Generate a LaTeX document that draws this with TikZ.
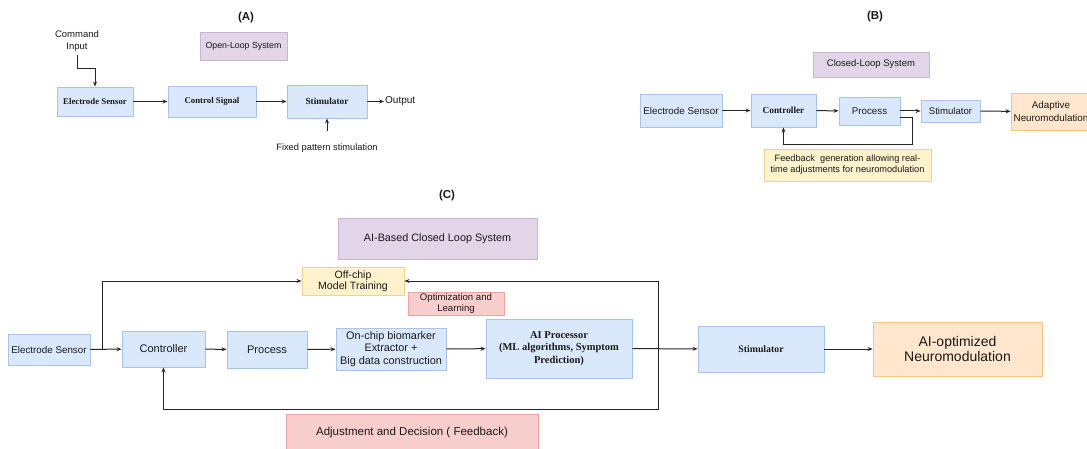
\documentclass[tikz,border=0pt]{standalone}
\usepackage{fontspec}
\setmainfont{Liberation Sans}
\setsansfont{Liberation Sans}
\newfontfamily\serifrm{Liberation Serif}
\usepackage{xcolor}
\usepackage{tikz}
\usetikzlibrary{positioning, calc, arrows.meta}

\definecolor{fillblue}{HTML}{DAE8FC}
\definecolor{lineblue}{HTML}{A9C4EB}
\definecolor{fillpurple}{HTML}{E1D5E7}
\definecolor{linepurple}{HTML}{C9B4D6}
\definecolor{fillyellow}{HTML}{FFF2CC}
\definecolor{lineyellow}{HTML}{EDD590}
\definecolor{fillpink}{HTML}{F8CECC}
\definecolor{linepink}{HTML}{EBA6A4}
\definecolor{fillorange}{HTML}{FFE6CC}
\definecolor{lineorange}{HTML}{F5C77E}

\newcommand{\setsz}[2]{\fontsize{#1}{#2}\selectfont}

\begin{document}
\begin{tikzpicture}[
  x=1pt, y=-1pt,
  >={Stealth[length=5pt, width=4pt]},
  every node/.style={align=center, text=black!90},
  box/.style={rectangle, draw, line width=0.9pt, inner sep=1pt},
  bluebox/.style={box, fill=fillblue, draw=lineblue},
  purplebox/.style={box, fill=fillpurple, draw=linepurple},
  yellowbox/.style={box, fill=fillyellow, draw=lineyellow},
  pinkbox/.style={box, fill=fillpink, draw=linepink},
  orangebox/.style={box, fill=fillorange, draw=lineorange},
  paneltitle/.style={font=\bfseries\setsz{11.5}{13}},
  flow/.style={->, line width=1pt, black!85}
]

\path[use as bounding box, clip] (0,0) rectangle (1087,449);

% --- (A) Open-loop system ---
\node[paneltitle] (titleA) at (246,18) {(A)};
\node[purplebox, minimum width=87pt, minimum height=28pt, font=\setsz{8.8}{10}]
  (openA) at (243.5,46) {Open-Loop System};
\node[font=\setsz{9.5}{12}] (cmdA) at (77,41) {Command\\Input};
\node[bluebox, minimum width=76pt, minimum height=29pt, font=\serifrm\bfseries\setsz{8.8}{10}]
  (sensA) at (95,101.5) {Electrode Sensor};
\node[bluebox, minimum width=88pt, minimum height=31pt, font=\serifrm\bfseries\setsz{8.8}{10}]
  (ctrlA) at (212,101.5) {Control Signal};
\node[bluebox, minimum width=80pt, minimum height=33pt, font=\serifrm\bfseries\setsz{9.3}{10}]
  (stimA) at (327,101.5) {Stimulator};
\node[anchor=west, inner sep=1pt, font=\setsz{10}{11}] (outA) at (384,101.5) {Output};
\node[font=\setsz{9.3}{10}] (fixA) at (327,148) {Fixed pattern stimulation};

\draw[flow] (cmdA.south) |- ($(sensA.north)+(0,-18)$) -- (sensA.north);
\draw[flow] (sensA) -- (ctrlA);
\draw[flow] (ctrlA) -- (stimA);
\draw[flow] (stimA) -- (outA);
\draw[flow, shorten <=9pt] (fixA.north) -- (stimA.south);

% --- (B) Closed-loop system ---
\node[paneltitle] (titleB) at (875,17) {(B)};
\node[purplebox, minimum width=116pt, minimum height=25pt, font=\setsz{9.5}{11}]
  (closedB) at (871,64.5) {Closed-Loop System};
\node[bluebox, minimum width=82pt, minimum height=33pt, font=\setsz{9.8}{11}]
  (sensB) at (681,110.5) {Electrode Sensor};
\node[bluebox, minimum width=65pt, minimum height=33pt, font=\serifrm\bfseries\setsz{9.3}{10}]
  (ctrlB) at (783.5,110.5) {Controller};
\node[bluebox, minimum width=61pt, minimum height=28pt, font=\setsz{9.8}{11}]
  (procB) at (869.5,111) {Process};
\node[bluebox, minimum width=59pt, minimum height=22pt, font=\setsz{9.6}{11}]
  (stimB) at (950.5,111) {Stimulator};
\node[orangebox, minimum width=80pt, minimum height=37pt, font=\setsz{9.8}{12.5}]
  (adaptB) at (1051,111.5) {Adaptive\\Neuromodulation};
\node[yellowbox, minimum width=167pt, minimum height=32pt, font=\setsz{9.2}{11}]
  (fbB) at (847.5,165) {Feedback~ generation allowing real-\\time adjustments for neuromodulation};

\draw[flow] (sensB) -- (ctrlB);
\draw[flow] (ctrlB) -- (procB);
\draw[flow] (procB) -- (stimB);
\draw[flow] (stimB) -- (adaptB);
\draw[flow] ($(procB.south east)+(0,-8)$) -- ++(12,0) |- ($(ctrlB.south)+(0,17)$) -- (ctrlB.south);

% --- (C) AI-based closed loop ---
\node[paneltitle] (titleC) at (447,196) {(C)};
\node[purplebox, minimum width=199pt, minimum height=41pt, font=\setsz{10.8}{12}]
  (aisysC) at (437.5,238.5) {AI-Based Closed Loop System};
\node[yellowbox, minimum width=102pt, minimum height=28pt, font=\setsz{10.6}{11}]
  (offC) at (353,281) {Off-chip\\Model Training};
\node[pinkbox, minimum width=96pt, minimum height=23pt, font=\setsz{9.6}{11}]
  (optC) at (456,303.5) {Optimization and\\Learning};
\node[bluebox, minimum width=82pt, minimum height=31pt, font=\setsz{9.8}{11}]
  (sensC) at (49,349.5) {Electrode Sensor};
\node[bluebox, minimum width=83pt, minimum height=36pt, font=\setsz{11}{12}]
  (ctrlC) at (163.5,349) {Controller};
\node[bluebox, minimum width=80pt, minimum height=37pt, font=\setsz{11}{12}]
  (procC) at (267,349.5) {Process};
\node[bluebox, minimum width=110pt, minimum height=42pt, font=\setsz{10.9}{12.5}]
  (chipC) at (391,349) {On-chip biomarker\\Extractor +\\Big data construction};
\node[bluebox, minimum width=146pt, minimum height=59pt, font=\serifrm\bfseries\setsz{10.5}{12.8}]
  (aiC) at (559,348.5) {AI Processor\\(ML algorithms, Symptom\\Prediction)};
\node[bluebox, minimum width=126pt, minimum height=46pt, font=\serifrm\bfseries\setsz{9.8}{11}]
  (stimC) at (761,349) {Stimulator};
\node[orangebox, minimum width=169pt, minimum height=54pt, font=\setsz{14}{15.5}]
  (neuroC) at (957.5,349) {AI-optimized\\Neuromodulation};
\node[pinkbox, minimum width=252pt, minimum height=37pt, font=\setsz{11.5}{13}]
  (adjC) at (412,432.5) {Adjustment and Decision ( Feedback)};

\coordinate (splitC) at (102,349.5);
\coordinate (loopC) at (658,348.5);

\draw[flow] (sensC) -- (ctrlC);
\draw[flow] (splitC) |- (offC.west);
\draw[flow] (ctrlC) -- (procC);
\draw[flow] (procC) -- (chipC);
\draw[flow] (chipC) -- (aiC);
\draw[flow] (aiC) -- (stimC);
\draw[flow] (stimC) -- (neuroC);
\draw[flow] (loopC) |- (offC.east);
\draw[flow] (loopC) -- ++(0,60.5) -| (ctrlC.south);

\end{tikzpicture}
\end{document}
